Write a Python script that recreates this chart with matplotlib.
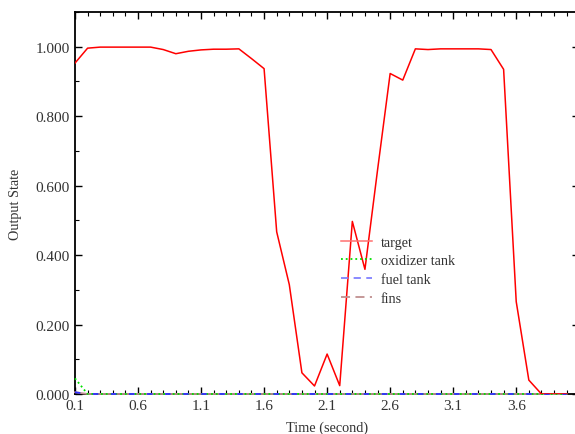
import matplotlib
matplotlib.use('Agg')
import matplotlib.pyplot as plt
from matplotlib.ticker import MultipleLocator, FixedLocator, FormatStrFormatter
from matplotlib.lines import Line2D
import numpy as np

# sample times (s)
time = [0.1, 0.2, 0.3, 0.4, 0.5, 0.6, 0.7, 0.8, 0.9, 1.0,
        1.1, 1.2, 1.3, 1.4, 1.5, 1.6, 1.7, 1.8, 1.9, 2.0,
        2.1, 2.2, 2.3, 2.4, 2.5, 2.6, 2.7, 2.8, 2.9, 3.0,
        3.1, 3.2, 3.3, 3.4, 3.5, 3.6, 3.7, 3.8, 3.9, 4.0]

target = [0.953, 0.996, 0.999, 0.999, 0.999, 0.999, 0.999, 0.992, 0.980, 0.987,
          0.991, 0.993, 0.993, 0.994, 0.966, 0.937, 0.467, 0.315, 0.061, 0.023,
          0.115, 0.024, 0.497, 0.359, 0.645, 0.923, 0.904, 0.994, 0.992, 0.994,
          0.994, 0.994, 0.994, 0.992, 0.935, 0.266, 0.040, 0.000, 0.000, 0.000]

oxidizer_tank = [0.045] + [0.0] * 39
fuel_tank = [0.005] + [0.0] * 39
fins = [0.005] + [0.0] * 39

x_ticks = [0.1, 0.6, 1.1, 1.6, 2.1, 2.6, 3.1, 3.6]

plt.rcParams['font.family'] = ['Liberation Serif', 'DejaVu Serif']
plt.rcParams['font.size'] = 11

fig = plt.figure(figsize=(5.75, 4.35), dpi=100)
ax = fig.add_axes([0.1304, 0.092, 0.877, 0.878])

# zero-level series sit on the bottom spine, so draw them over it
ax.plot(time, fins, color='#c09090', linestyle='-', linewidth=1.3, label='fins',
        zorder=3, clip_on=False)
ax.plot(time, oxidizer_tank, color='#00e000', linestyle=':', linewidth=1.3, label='oxidizer tank',
        zorder=3, clip_on=False)
ax.plot(time, fuel_tank, color='#3030ff', linestyle=(0, (3, 7)), linewidth=1.3, label='fuel tank',
        zorder=3, clip_on=False)
ax.plot(time, target, color='#ff0000', linewidth=1.1, label='target', zorder=4)

ax.set_xlim(0.1, 4.1)
ax.set_ylim(0, 1.1)
ax.xaxis.set_major_locator(FixedLocator(x_ticks))
ax.xaxis.set_minor_locator(FixedLocator(np.arange(0.1, 4.05, 0.1)))
ax.xaxis.set_major_formatter(FormatStrFormatter('%.1f'))
ax.yaxis.set_major_locator(MultipleLocator(0.2))
ax.yaxis.set_minor_locator(MultipleLocator(0.1))
ax.yaxis.set_major_formatter(FormatStrFormatter('%.3f'))
ax.tick_params(which='both', direction='in', top=True, right=True, colors='black',
               labelcolor='#333333')
ax.tick_params(which='major', length=5, width=1)
ax.tick_params(which='minor', length=3, width=0.8)
for s in ax.spines.values():
    s.set_linewidth(1.3)

ax.set_xlabel('Time (second)', color='#333333', fontsize=10.3, labelpad=6)
ax.set_ylabel('Output State', color='#333333', fontsize=10.3, labelpad=10)

legend_handles = [
    Line2D([], [], color='#ff7070', linewidth=1.1),
    Line2D([], [], color='#00e000', linestyle=':', linewidth=1.3),
    Line2D([], [], color='#8080ff', linestyle=(0, (4, 3)), linewidth=1.3),
    Line2D([], [], color='#c09090', linestyle=(0, (5, 3)), linewidth=1.3),
]
ax.legend(legend_handles, ['target', 'oxidizer tank', 'fuel tank', 'fins'],
          frameon=False, loc='upper left', bbox_to_anchor=(0.502, 0.448), fontsize=10.2,
          handlelength=2.2, handletextpad=0.63, labelspacing=0.4, labelcolor='#333333')

fig.savefig('out.png', dpi=100)
